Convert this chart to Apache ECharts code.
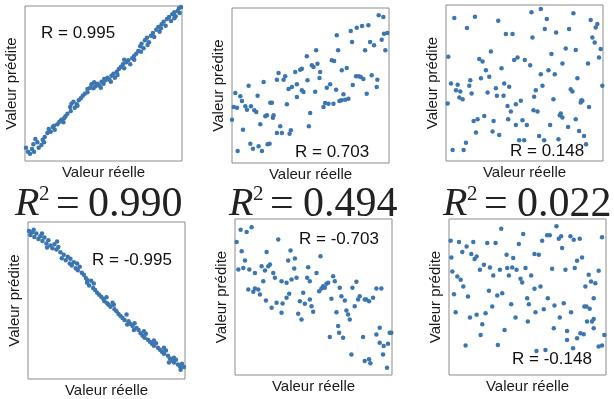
<!DOCTYPE html>
<html>
<head>
<meta charset="utf-8">
<script src="https://cdn.jsdelivr.net/npm/echarts@6/dist/echarts.min.js"></script>
<style>
  html, body { margin: 0; padding: 0; background: #fff; }
  #chart { width: 614px; height: 399px; }
</style>
</head>
<body>
<div id="chart"></div>
<script>
// valeurs (unités arbitraires, 0-480), [réelle, prédite]
var pts1 = [[6,52],[12,40],[18,34],[24,48],[28,62],[34,78],[40,68],[44,52],[52,60],[56,76],[62,84],[70,96],[74,108],[80,100],[86,114],[92,106],[100,122],[106,130],[112,136],[118,128],[124,146],[130,154],[138,174],[142,184],[148,190],[152,172],[158,182],[164,194],[170,200],[176,208],[182,214],[190,218],[198,232],[202,242],[208,230],[214,236],[220,244],[226,238],[232,250],[238,244],[244,254],[250,262],[256,256],[262,268],[268,274],[272,262],[278,280],[284,288],[290,294],[296,302],[300,290],[306,308],[312,314],[318,302],[324,320],[330,328],[336,334],[342,342],[348,356],[352,364],[358,350],[362,374],[368,382],[374,368],[380,388],[386,396],[390,384],[396,406],[402,414],[406,400],[412,422],[418,430],[424,418],[428,438],[434,444],[440,432],[444,452],[450,458],[454,446],[460,462],[464,470],[470,474],[466,456],[210,248],[120,140],[60,68],[160,178],[330,316],[410,410],[280,270],[240,258],[90,118],[30,40],[370,360],[190,228],[140,162],[450,440],[300,316],[350,340],[230,232],[260,250]];
var pts2 = [[5,142],[15,222],[30,212],[35,198],[10,180],[20,178],[45,182],[50,172],[55,244],[38,112],[22,48],[60,70],[68,55],[85,62],[95,48],[90,128],[62,182],[72,170],[78,165],[100,255],[105,152],[110,155],[120,193],[125,193],[130,155],[140,102],[150,122],[155,102],[170,188],[178,100],[182,110],[118,70],[112,68],[140,262],[145,282],[160,262],[165,272],[185,240],[195,285],[200,248],[210,292],[215,295],[215,230],[220,225],[230,332],[232,260],[236,122],[240,162],[245,305],[250,300],[258,350],[262,310],[268,267],[270,285],[280,180],[285,192],[295,190],[300,248],[305,320],[310,190],[312,318],[320,395],[324,350],[318,232],[335,290],[340,218],[345,202],[350,297],[355,205],[362,408],[366,375],[368,246],[378,272],[380,418],[386,272],[392,270],[396,423],[400,264],[405,350],[410,220],[415,425],[420,375],[425,275],[432,365],[440,240],[442,262],[446,455],[455,382],[460,450],[462,400],[466,350],[472,402],[328,198],[334,200],[290,238],[255,226],[200,210],[175,234],[82,214],[128,148]];
var pts3 = [[30,438],[92,442],[68,408],[162,430],[185,390],[205,390],[262,455],[290,465],[308,435],[302,405],[336,395],[265,380],[375,405],[388,452],[440,432],[460,420],[455,410],[445,380],[452,365],[470,345],[465,320],[432,302],[395,342],[365,347],[322,330],[355,302],[313,282],[332,270],[258,297],[242,312],[220,320],[210,312],[140,338],[105,315],[115,308],[125,282],[172,288],[12,322],[20,242],[40,238],[35,222],[48,218],[45,200],[55,195],[75,235],[78,252],[110,258],[135,262],[155,228],[130,215],[180,242],[195,232],[158,205],[178,205],[82,212],[10,182],[190,175],[200,158],[215,180],[230,190],[270,202],[275,222],[295,235],[290,270],[268,162],[280,158],[235,132],[248,118],[192,135],[148,130],[120,145],[100,135],[88,130],[95,95],[145,98],[165,88],[225,72],[240,72],[300,72],[285,85],[318,118],[343,75],[350,152],[355,140],[347,147],[380,225],[385,218],[400,258],[415,190],[412,192],[435,172],[420,85],[405,100],[372,112],[328,195],[475,235],[25,43],[58,43],[65,65],[426,60],[410,185],[395,135],[215,118]];
var pts4 = [[6,448],[10,436],[16,444],[22,430],[28,440],[34,424],[40,432],[46,418],[52,428],[58,410],[64,420],[70,404],[76,396],[82,408],[88,392],[94,400],[100,384],[104,366],[110,376],[116,360],[122,370],[128,350],[134,344],[140,354],[146,336],[152,330],[158,340],[164,322],[170,316],[176,306],[180,292],[186,284],[192,298],[198,276],[204,270],[210,262],[216,256],[222,250],[228,244],[232,236],[238,248],[244,226],[250,220],[256,232],[262,212],[268,206],[274,198],[280,192],[286,186],[292,180],[298,196],[304,176],[310,168],[316,162],[322,170],[328,156],[334,150],[340,140],[346,132],[352,126],[356,138],[362,120],[368,114],[374,108],[380,102],[386,110],[392,96],[398,90],[404,84],[410,78],[416,88],[422,72],[428,64],[434,58],[440,52],[446,60],[452,46],[458,40],[464,48],[470,38],[474,30],[460,30],[20,452],[60,398],[130,364],[200,290],[260,226],[320,150],[380,118],[440,66],[150,350],[240,230],[300,166],[90,416],[350,146],[410,96],[180,300],[45,440],[425,52]];
var pts5 = [[10,408],[22,445],[40,438],[55,452],[25,380],[35,352],[15,325],[30,330],[48,325],[65,315],[85,335],[95,322],[105,335],[110,340],[100,378],[135,415],[165,352],[172,382],[185,358],[183,328],[175,295],[190,300],[160,285],[145,290],[125,300],[120,315],[45,265],[60,258],[65,268],[75,265],[80,250],[98,232],[115,210],[130,225],[148,223],[145,195],[168,252],[195,192],[205,175],[200,230],[210,255],[215,222],[225,332],[230,235],[235,215],[240,198],[222,300],[230,290],[250,315],[262,365],[258,260],[265,268],[270,275],[280,282],[285,285],[275,270],[295,237],[300,305],[305,290],[310,197],[315,155],[290,122],[318,135],[325,245],[330,120],[335,232],[340,202],[345,190],[350,175],[358,270],[365,215],[370,288],[375,235],[380,245],[390,122],[395,235],[400,235],[408,230],[420,240],[430,268],[445,268],[355,70],[395,50],[408,55],[412,43],[430,130],[440,150],[440,105],[450,70],[452,95],[462,30],[465,102],[470,135],[475,135],[320,270],[160,240],[90,290]];
var pts6 = [[10,412],[35,408],[58,395],[78,408],[45,378],[72,372],[88,365],[82,357],[120,405],[145,405],[162,448],[215,402],[228,432],[178,370],[198,360],[262,372],[275,370],[285,412],[300,428],[308,428],[328,455],[335,418],[342,425],[345,390],[370,425],[380,415],[398,418],[465,422],[12,362],[15,320],[30,305],[40,295],[48,275],[62,245],[20,252],[25,198],[68,182],[88,190],[105,162],[100,130],[55,98],[110,340],[98,325],[128,332],[138,308],[158,325],[180,330],[185,308],[195,332],[208,325],[220,298],[225,287],[235,330],[252,308],[262,268],[280,275],[240,240],[245,222],[192,222],[165,255],[150,248],[125,262],[135,215],[115,195],[172,145],[152,100],[205,182],[242,170],[265,198],[290,207],[302,240],[315,328],[322,218],[338,182],[320,150],[350,225],[355,325],[360,142],[372,198],[383,330],[390,352],[405,362],[425,310],[432,290],[445,285],[455,322],[415,275],[440,240],[418,215],[428,208],[412,215],[440,178],[435,170],[420,170],[410,132],[400,135],[390,120],[360,115],[378,90],[440,150],[455,95],[465,98],[472,130],[268,82],[295,85]];

var rLabels = ['R = 0.995', 'R = 0.703', 'R = 0.148', 'R = -0.995', 'R = -0.703', 'R = -0.148'];
var r2Values = ['0.990', '0.494', '0.022'];
var xRanges = [[3,473],[5,477],[5,477],[3,473],[5,477],[5,477]];
var yRanges = [[12,477],[12,477],[10,477],[2,475],[8,477],[10,477]];

var allPts = [pts1, pts2, pts3, pts4, pts5, pts6];
var boxes = [
    {left: 25, top: 6, width: 157, height: 155},
    {left: 232, top: 8, width: 157, height: 155},
    {left: 446, top: 5, width: 157, height: 156},
    {left: 28, top: 222, width: 157, height: 157},
    {left: 235, top: 219, width: 157, height: 156},
    {left: 449, top: 219, width: 157, height: 156}
];
var rPos = [[41,33], [295,152], [510,151], [92,260], [299,239], [512,359]];
var r2Pos = [15, 229, 443];
var r2NumOffset = [73, 74, 74];

var sans = '"Liberation Sans", Arial, sans-serif';
var serif = '"Liberation Serif", "Times New Roman", serif';

var chart = echarts.init(document.getElementById('chart'));

var graphics = [];
rLabels.forEach(function (t, i) {
    graphics.push({
        type: 'text', x: rPos[i][0], y: rPos[i][1], z: 10,
        style: {text: t, font: '17px ' + sans, fill: '#111', textVerticalAlign: 'middle', verticalAlign: 'middle'}
    });
});
// R² = ... (grand texte entre les deux rangées)
r2Values.forEach(function (v, i) {
    var x0 = r2Pos[i];
    graphics.push({type: 'text', x: x0, y: 184, style: {text: 'R', font: 'italic 40px ' + serif, fill: '#222'}});
    graphics.push({type: 'text', x: x0 + 24, y: 184, style: {text: '2', font: '21px ' + serif, fill: '#222'}});
    graphics.push({type: 'text', x: x0 + 41, y: 184, style: {text: '=', font: '42px ' + serif, fill: '#222'}});
    graphics.push({type: 'text', x: x0 + r2NumOffset[i], y: 184, style: {text: v, font: '42px ' + serif, fill: '#222'}});
});

var option = {
    animation: false,
    grid: boxes.map(function (b) {
        return {left: b.left, top: b.top, width: b.width, height: b.height, show: true, borderColor: '#8c8c8c', borderWidth: 1};
    }),
    xAxis: boxes.map(function (b, i) {
        return {
            gridIndex: i, type: 'value', min: xRanges[i][0], max: xRanges[i][1],
            axisLine: {show: false}, axisTick: {show: false}, axisLabel: {show: false}, splitLine: {show: false},
            name: 'Valeur réelle', nameLocation: 'middle', nameGap: 4,
            nameTextStyle: {fontSize: 15, color: '#1a1a1a', fontFamily: sans}
        };
    }),
    yAxis: boxes.map(function (b, i) {
        return {
            gridIndex: i, type: 'value', min: yRanges[i][0], max: yRanges[i][1],
            axisLine: {show: false}, axisTick: {show: false}, axisLabel: {show: false}, splitLine: {show: false},
            name: 'Valeur prédite', nameLocation: 'middle', nameGap: 6,
            nameTextStyle: {fontSize: 15, color: '#1a1a1a', fontFamily: sans}
        };
    }),
    series: allPts.map(function (p, i) {
        return {
            type: 'scatter', xAxisIndex: i, yAxisIndex: i, data: p,
            symbolSize: 4.5, itemStyle: {color: '#3b76b0', opacity: 1}, silent: true
        };
    }),
    graphic: graphics
};
chart.setOption(option);
</script>
</body>
</html>
